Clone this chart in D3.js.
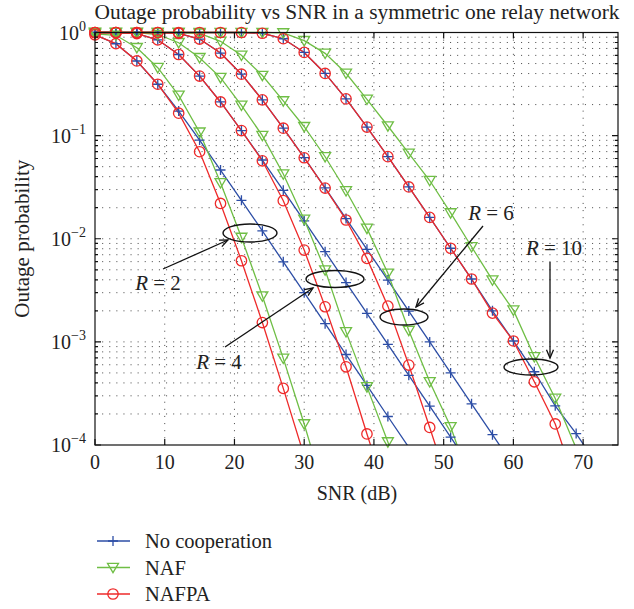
<!DOCTYPE html>
<html>
<head>
<meta charset="utf-8">
<script src="https://cdn.jsdelivr.net/npm/d3@7"></script>
<style>
  body { margin: 0; background: #fff; }
  text { font-family: "Liberation Serif", "DejaVu Serif", serif; fill: #222; }
</style>
</head>
<body>
<script>
// SNR points (dB), one marker every 3 dB
const snr = [0, 3, 6, 9, 12, 15, 18, 21, 24, 27, 30, 33, 36, 39, 42, 45, 48, 51, 54, 57, 60, 63, 66, 69, 72];

// outage probability, per rate R
const noCoopR2 = [0.95, 0.778, 0.529, 0.315, 0.173, 0.0905, 0.0464, 0.0236, 0.0119, 0.00597, 0.003, 0.0015, 0.000754, 0.000378, 0.000189, 0.0000949];
const nafR2 = [0.97, 0.94, 0.712, 0.456, 0.246, 0.108, 0.0349, 0.0103, 0.00278, 0.000692, 0.00016, 0.000033];
const nafpaR2 = [0.95, 0.78, 0.53, 0.315, 0.165, 0.0698, 0.022, 0.00612, 0.00154, 0.000354, 0.000078];

const noCoopR4 = [1, 0.9995, 0.977, 0.849, 0.612, 0.378, 0.212, 0.112, 0.058, 0.0295, 0.0149, 0.00749, 0.00376, 0.00189, 0.000946, 0.000474, 0.000238, 0.000119, 0.0000597];
const nafR4 = [1, 1, 0.999, 0.956, 0.796, 0.57, 0.365, 0.197, 0.1, 0.0424, 0.0154, 0.00497, 0.00125, 0.000366, 0.000107, 0.00003];
const nafpaR4 = [1, 0.9995, 0.977, 0.849, 0.612, 0.378, 0.212, 0.112, 0.057, 0.0234, 0.00777, 0.00219, 0.000573, 0.000128, 0.00003];

const noCoopR6 = [1, 1, 1, 0.9996, 0.981, 0.864, 0.632, 0.394, 0.222, 0.118, 0.0611, 0.0311, 0.0157, 0.0079, 0.00397, 0.00199, 0.000998, 0.0005, 0.000251, 0.000126, 0.000063];
const nafR6 = [1, 1, 1, 1, 1, 0.98, 0.822, 0.601, 0.383, 0.217, 0.122, 0.0624, 0.0292, 0.0126, 0.00462, 0.00129, 0.00041, 0.00015, 0.00004];
const nafpaR6 = [1, 1, 1, 0.9996, 0.981, 0.864, 0.632, 0.394, 0.222, 0.118, 0.061, 0.031, 0.0152, 0.00645, 0.00222, 0.000596, 0.000148, 0.000035];

const noCoopR10 = [1, 1, 1, 1, 1, 1, 1, 0.9997, 0.983, 0.87, 0.641, 0.401, 0.227, 0.121, 0.0625, 0.0318, 0.0161, 0.00809, 0.00407, 0.002, 0.00102, 0.000513, 0.00024, 0.000129, 0.0000646];
const nafR10 = [1, 1, 1, 1, 1, 1, 1, 1, 1, 0.99, 0.833, 0.628, 0.402, 0.225, 0.124, 0.0673, 0.0367, 0.0178, 0.00836, 0.00397, 0.00203, 0.000717, 0.000283, 0.000093];
const nafpaR10 = [1, 1, 1, 1, 1, 1, 1, 0.9997, 0.983, 0.87, 0.641, 0.401, 0.227, 0.121, 0.0625, 0.0318, 0.0161, 0.00809, 0.00407, 0.0019, 0.00102, 0.00041, 0.00016, 0.00004];

const schemes = ["No cooperation", "NAF", "NAFPA"];
const colors = { "No cooperation": "#2d4ea6", "NAF": "#6fbe45", "NAFPA": "#ee2a2a" };
const markers = { "No cooperation": "plus", "NAF": "tri", "NAFPA": "circle" };

const series = [
  { scheme: "No cooperation", values: [noCoopR2, noCoopR4, noCoopR6, noCoopR10] },
  { scheme: "NAF", values: [nafR2, nafR4, nafR6, nafR10] },
  { scheme: "NAFPA", values: [nafpaR2, nafpaR4, nafpaR6, nafpaR10] },
];

const xTicks = [0, 10, 20, 30, 40, 50, 60, 70];
const yDecades = [1, 0.1, 0.01, 0.001, 0.0001];
const yTickLabels = ["0", "\u22121", "\u22122", "\u22123", "\u22124"];

const annotations = [
  { label: "10", tx: 554, ty: 255, from: [550, 262], to: [550, 358], ell: [531, 367, 27, 8] },
  { label: "6", tx: 491, ty: 220, from: [483, 226], to: [416, 307], ell: [404, 317, 24, 8] },
  { label: "4", tx: 219, ty: 369, from: [225, 347], to: [313, 288], ell: [335, 279, 29, 8.5] },
  { label: "2", tx: 158, ty: 290, from: [163, 269], to: [228, 240], ell: [250, 233, 27, 9] },
];

const width = 634, height = 609;
const x = d3.scaleLinear().domain([0, 75]).range([95, 618]);
const y = d3.scaleLog().domain([1e-4, 1]).range([445, 32.5]);

const svg = d3.select("body").append("svg")
  .attr("width", width).attr("height", height);

svg.append("defs").append("clipPath").attr("id", "clip")
  .append("rect")
  .attr("x", x(0) - 10).attr("y", y(1) - 10)
  .attr("width", x(75) - x(0) + 10).attr("height", y(1e-4) - y(1) + 10);

// dotted grid
const grid = svg.append("g").attr("stroke", "#444").attr("stroke-width", 0.9)
  .attr("stroke-dasharray", "1.1,6");
grid.selectAll(".gy").data(y.ticks().filter((t) => t < 0.999 && t > 1.001e-4))
  .join("line")
  .attr("x1", x(0)).attr("x2", x(75))
  .attr("y1", (d) => y(d)).attr("y2", (d) => y(d));
grid.selectAll(".gx").data(xTicks.slice(1))
  .join("line")
  .attr("x1", (d) => x(d)).attr("x2", (d) => x(d))
  .attr("y1", y(1)).attr("y2", y(1e-4));

// curves
const line = d3.line().x((d) => x(d[0])).y((d) => y(d[1]));
const plot = svg.append("g");
const curves = plot.append("g").attr("clip-path", "url(#clip)");

const markerPath = (type) => {
  if (type === "plus") return "M-5,0H5M0,-5V5";
  if (type === "tri") return "M-5.5,-4.2L5.5,-4.2L0,5.2Z";
  return d3.arc()({ innerRadius: 0, outerRadius: 5.2, startAngle: 0, endAngle: 2 * Math.PI });
};

series.forEach((s) => {
  s.values.forEach((vals) => {
    const pts = vals.map((p, i) => [snr[i], p]);
    curves.append("path")
      .attr("d", line(pts))
      .attr("fill", "none")
      .attr("stroke", colors[s.scheme])
      .attr("stroke-width", 1.3);
    plot.append("g").selectAll("path")
      .data(pts.filter((d) => d[1] >= 1e-4))
      .join("path")
      .attr("transform", (d) => `translate(${x(d[0])},${y(d[1])})`)
      .attr("d", markerPath(markers[s.scheme]))
      .attr("fill", "none")
      .attr("stroke", colors[s.scheme])
      .attr("stroke-width", 1.3);
  });
});

// axes box and ticks
const axes = svg.append("g").attr("stroke", "#111").attr("stroke-width", 1.2);
axes.append("rect")
  .attr("x", x(0)).attr("y", y(1))
  .attr("width", x(75) - x(0)).attr("height", y(1e-4) - y(1))
  .attr("fill", "none");
axes.selectAll(".ty").data(y.ticks()).join("path")
  .attr("d", (d) => {
    const len = yDecades.includes(d) ? 6 : 3;
    return `M${x(0)},${y(d)}h${len}M${x(75)},${y(d)}h${-len}`;
  });
axes.selectAll(".tx").data(xTicks).join("path")
  .attr("d", (d) => `M${x(d)},${y(1e-4)}v-6M${x(d)},${y(1)}v6`);

// tick labels
svg.append("g").selectAll("text").data(xTicks).join("text")
  .attr("x", (d) => x(d)).attr("y", y(1e-4) + 24)
  .attr("text-anchor", "middle").attr("font-size", 20)
  .text((d) => d);

const yl = svg.append("g").selectAll("text").data(yDecades).join("text")
  .attr("x", x(0) - 9).attr("y", (d) => y(d) + 7)
  .attr("text-anchor", "end").attr("font-size", 20);
yl.append("tspan").text("10");
yl.append("tspan").attr("dy", -9).attr("font-size", 14)
  .text((d, i) => yTickLabels[i]);

// titles
svg.append("text").attr("x", 357).attr("y", 19)
  .attr("text-anchor", "middle").attr("font-size", 20)
  .attr("textLength", 525).attr("lengthAdjust", "spacingAndGlyphs")
  .text("Outage probability vs SNR in a symmetric one relay network");
svg.append("text").attr("x", 357).attr("y", 500)
  .attr("text-anchor", "middle").attr("font-size", 20)
  .text("SNR (dB)");
svg.append("text")
  .attr("transform", `translate(29,${(y(1) + y(1e-4)) / 2}) rotate(-90)`)
  .attr("text-anchor", "middle").attr("font-size", 21)
  .text("Outage probability");

// annotations
const ann = svg.append("g");
annotations.forEach((a) => {
  ann.append("ellipse")
    .attr("cx", a.ell[0]).attr("cy", a.ell[1])
    .attr("rx", a.ell[2]).attr("ry", a.ell[3])
    .attr("fill", "none").attr("stroke", "#111").attr("stroke-width", 1.4);
  ann.append("line")
    .attr("x1", a.from[0]).attr("y1", a.from[1])
    .attr("x2", a.to[0]).attr("y2", a.to[1])
    .attr("stroke", "#111").attr("stroke-width", 1.3);
  const ang = Math.atan2(a.to[1] - a.from[1], a.to[0] - a.from[0]);
  const hx = (da) => a.to[0] - 9 * Math.cos(ang + da);
  const hy = (da) => a.to[1] - 9 * Math.sin(ang + da);
  ann.append("path")
    .attr("d", `M${hx(0.4)},${hy(0.4)}L${a.to[0]},${a.to[1]}L${hx(-0.4)},${hy(-0.4)}`)
    .attr("fill", "none").attr("stroke", "#111").attr("stroke-width", 1.3);
  const t = ann.append("text").attr("x", a.tx).attr("y", a.ty)
    .attr("text-anchor", "middle").attr("font-size", 21);
  t.append("tspan").attr("font-style", "italic").text("R");
  t.append("tspan").text(" = " + a.label);
});

// legend
const legend = svg.append("g");
schemes.forEach((s, i) => {
  const ly = 541 + i * 26.5;
  legend.append("line")
    .attr("x1", 97).attr("x2", 130).attr("y1", ly).attr("y2", ly)
    .attr("stroke", colors[s]).attr("stroke-width", 1.3);
  legend.append("path")
    .attr("transform", `translate(113,${ly})`)
    .attr("d", markerPath(markers[s]))
    .attr("fill", "none").attr("stroke", colors[s]).attr("stroke-width", 1.3);
  legend.append("text").attr("x", 145).attr("y", ly + 7)
    .attr("font-size", 20.5).text(s);
});
</script>
</body>
</html>
